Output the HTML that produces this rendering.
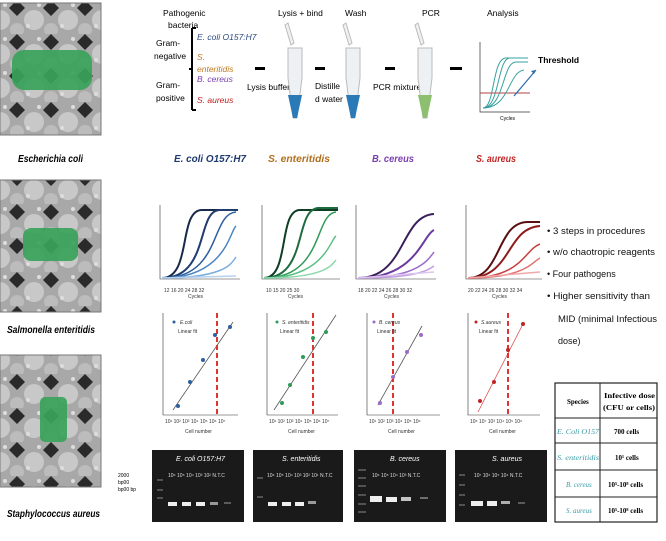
<!DOCTYPE html><html><head><meta charset="utf-8"><style>
body{margin:0;background:#fff;width:666px;height:536px;overflow:hidden}
svg text{font-family:"Liberation Sans",sans-serif}
.i{font-style:italic}
</style></head><body>
<svg width="666" height="536" viewBox="0 0 666 536" xmlns="http://www.w3.org/2000/svg">
<defs>
<pattern id="mic" width="34" height="34" patternUnits="userSpaceOnUse">
<rect width="34" height="34" fill="#a8a8a8"/>
<path d="M17 0 L25 8 L17 16 L9 8Z" fill="#2a2a2a"/>
<circle cx="0" cy="20" r="10" fill="#c8c8c8"/><circle cx="34" cy="20" r="10" fill="#c8c8c8"/>
<circle cx="17" cy="30" r="7" fill="#bcbcbc"/>
<circle cx="5" cy="5" r="2" fill="#ddd"/><circle cx="28" cy="26" r="2" fill="#ddd"/>
</pattern>
</defs>
<rect x="0" y="3" width="101" height="132" fill="url(#mic)" stroke="#777"/>
<rect x="12" y="50" width="80" height="40" rx="12" fill="#3aa35a" opacity="0.92"/>
<text x="18" y="162" font-size="10" class="i" font-weight="bold" textLength="65" lengthAdjust="spacingAndGlyphs">Escherichia coli</text>
<rect x="0" y="180" width="101" height="132" fill="url(#mic)" stroke="#777"/>
<rect x="23" y="228" width="55" height="33" rx="8" fill="#3aa35a" opacity="0.92"/>
<text x="7" y="333" font-size="10" class="i" font-weight="bold" textLength="88" lengthAdjust="spacingAndGlyphs">Salmonella enteritidis</text>
<rect x="0" y="355" width="101" height="132" fill="url(#mic)" stroke="#777"/>
<rect x="40" y="397" width="27" height="45" rx="5" fill="#3aa35a" opacity="0.92"/>
<text x="7" y="517" font-size="10" class="i" font-weight="bold" textLength="93" lengthAdjust="spacingAndGlyphs">Staphylococcus aureus</text>
<text x="118" y="477" font-size="5">2000</text><text x="118" y="484" font-size="5">bp00</text><text x="118" y="491" font-size="5">bp00 bp</text>

<g font-size="8.5">
<text x="163" y="16">Pathogenic</text><text x="168" y="28">bacteria</text>
<text x="156" y="46">Gram-</text><text x="154" y="59">negative</text>
<text x="156" y="88">Gram-</text><text x="156" y="101">positive</text>
<path d="M192 28 V110 M192 28 h4 M192 110 h4 M189 69 h3" stroke="#000" stroke-width="2" fill="none"/>
<text x="197" y="40" class="i" fill="#2d4a80">E. coli O157:H7</text>
<text x="197" y="60" class="i" fill="#c07a20">S.</text>
<text x="197" y="72" class="i" fill="#c07a20">enteritidis</text>
<text x="197" y="82" class="i" fill="#7a3fb0">B. cereus</text>
<text x="197" y="103" class="i" fill="#c02020">S. aureus</text>
<text x="278" y="16">Lysis + bind</text><text x="345" y="16">Wash</text><text x="422" y="16">PCR</text><text x="487" y="16">Analysis</text>
<text x="247" y="90">Lysis buffer</text>
<text x="315" y="89">Distille</text><text x="315" y="102">d water</text>
<text x="373" y="90">PCR mixture</text>
<text x="538" y="63" font-weight="bold">Threshold</text>
</g>
<g fill="#000"><rect x="255" y="67" width="10" height="3"/><rect x="315" y="67" width="10" height="3"/><rect x="385" y="67" width="10" height="3"/><rect x="450" y="67" width="12" height="3"/></g>
<g stroke="#bbb" fill="#eef1f3">
<path d="M288 48 h14 v30 l-5 40 h-4 l-5 -40z"/><path d="M346 48 h14 v30 l-5 40 h-4 l-5 -40z"/><path d="M418 48 h14 v30 l-5 40 h-4 l-5 -40z"/>
<path d="M291 45 l-6 -20 l3 -2 l6 20z"/><path d="M349 45 l-6 -20 l3 -2 l6 20z"/><path d="M421 45 l-6 -20 l3 -2 l6 20z"/>
</g>
<path d="M288 95 h14 l-5 23 h-4z" fill="#2b7ab8"/><path d="M346 95 h14 l-5 23 h-4z" fill="#2b7ab8"/><path d="M418 95 h14 l-5 23 h-4z" fill="#8dbf70"/>
<path d="M480 42 V112 H530" stroke="#333" fill="none" stroke-width="0.7"/>
<line x1="480" y1="93" x2="530" y2="93" stroke="#b04040"/>
<g stroke="#3aa0a0" fill="none" stroke-width="1"><path d="M483 108 C495 108 492 58 506 58 H528"/><path d="M483 108 C500 108 497 58 510 58 H528"/><path d="M483 108 C505 108 502 62 516 62 H528"/><path d="M483 108 C510 108 508 72 524 70"/></g>
<path d="M514 96 L536 70" stroke="#2b6aa8" stroke-width="1.2"/><path d="M536 70 l-5 1 l3 3z" fill="#2b6aa8"/>
<text x="500" y="120" font-size="5">Cycles</text>

<g font-size="10.5" class="i" font-weight="bold">
<text x="174" y="162" fill="#1f3a6e" textLength="72" lengthAdjust="spacingAndGlyphs">E. coli O157:H7</text>
<text x="268" y="162" fill="#b0701f" textLength="62" lengthAdjust="spacingAndGlyphs">S. enteritidis</text>
<text x="372" y="162" fill="#7a3fb0" textLength="42" lengthAdjust="spacingAndGlyphs">B. cereus</text>
<text x="476" y="162" fill="#c02525" textLength="40" lengthAdjust="spacingAndGlyphs">S. aureus</text>
</g>
<g font-size="5" fill="#333">
<g transform="translate(160,0)">
<path d="M0 205 V279 H80" stroke="#333" fill="none" stroke-width="0.6"/>
<path d="M2 278 C32 278 18 210 42 210 H78" stroke="#1a2a4a" stroke-width="2" fill="none"/>
<path d="M2 278 C50 278 36 210 60 210 H78" stroke="#1f3d6e" stroke-width="2" fill="none"/>
<path d="M2 278 C62 278 50 214 76 212" stroke="#2e5f9e" stroke-width="1.5" fill="none"/>
<path d="M2 278 C66 278 70 230 76 226" stroke="#4a85c4" stroke-width="1.5" fill="none"/>
<path d="M2 278 C68 278 72 262 76 257" stroke="#7aaede" stroke-width="1.5" fill="none"/>
<path d="M2 278 L76 276" stroke="#b5d2ee" stroke-width="1.5"/>
<text x="4" y="292">12 16 20 24 28 32</text><text x="28" y="298">Cycles</text>
</g>
<g transform="translate(262,0)">
<path d="M0 205 V279 H78" stroke="#333" fill="none" stroke-width="0.6"/>
<path d="M2 278 C28 278 16 210 38 210 H76" stroke="#0f3d25" stroke-width="2" fill="none"/>
<path d="M2 278 C46 278 32 210 56 208 H76" stroke="#1e6b3f" stroke-width="2" fill="none"/>
<path d="M2 278 C62 278 52 214 74 212" stroke="#2f9a5a" stroke-width="1.5" fill="none"/>
<path d="M2 278 C62 278 68 240 74 236" stroke="#5cc085" stroke-width="1.5" fill="none"/>
<path d="M2 278 C66 278 70 264 74 260" stroke="#8fd8ab" stroke-width="1.5" fill="none"/>
<text x="4" y="292">10 15 20 25 30</text><text x="26" y="298">Cycles</text>
</g>
<g transform="translate(356,0)">
<path d="M0 205 V279 H80" stroke="#333" fill="none" stroke-width="0.6"/>
<path d="M2 278 C50 278 44 216 78 214" stroke="#3a1f5c" stroke-width="2" fill="none"/>
<path d="M2 278 C60 278 66 236 78 230" stroke="#6a3a9e" stroke-width="2" fill="none"/>
<path d="M2 278 C62 278 72 260 78 252" stroke="#9a6ccc" stroke-width="1.5" fill="none"/>
<path d="M2 278 C62 278 72 270 78 266" stroke="#c29de0" stroke-width="1.5" fill="none"/>
<path d="M2 278 L78 272" stroke="#dcc5ee" stroke-width="1.5"/>
<text x="2" y="292">18 20 22 24 26 28 30 32</text><text x="28" y="298">Cycles</text>
</g>
<g transform="translate(466,0)">
<path d="M0 205 V279 H76" stroke="#333" fill="none" stroke-width="0.6"/>
<path d="M2 278 C36 278 30 222 62 222 H74" stroke="#5a0f10" stroke-width="2" fill="none"/>
<path d="M2 278 C46 278 40 228 74 226" stroke="#8f1c1c" stroke-width="2" fill="none"/>
<path d="M2 278 C56 278 58 250 74 244" stroke="#c84040" stroke-width="1.5" fill="none"/>
<path d="M2 278 C60 278 66 262 74 258" stroke="#e07070" stroke-width="1.5" fill="none"/>
<path d="M2 278 L74 272" stroke="#f0a8a8" stroke-width="1.5"/>
<text x="2" y="292">20 22 24 26 28 30 32 34</text><text x="26" y="298">Cycles</text>
</g>
</g>
<g font-size="9" fill="#111">
<text x="547" y="234" textLength="98" lengthAdjust="spacingAndGlyphs">•  3 steps in procedures</text>
<text x="547" y="255" textLength="108" lengthAdjust="spacingAndGlyphs">•  w/o chaotropic reagents</text>
<text x="547" y="277">•  Four pathogens</text>
<text x="547" y="299" textLength="103" lengthAdjust="spacingAndGlyphs">•  Higher sensitivity than</text>
<text x="558" y="322" textLength="99" lengthAdjust="spacingAndGlyphs">MID (minimal Infectious</text>
<text x="558" y="344">dose)</text>
</g>
<g font-size="5" fill="#333">
<g>
<path d="M163 313 V415 H238" stroke="#333" fill="none" stroke-width="0.6"/>
<line x1="173" y1="410" x2="233" y2="322" stroke="#555" stroke-width="0.8"/>
<line x1="217" y1="313" x2="217" y2="415" stroke="#d33" stroke-width="2" stroke-dasharray="5,3"/>
<g fill="#2e5f9e"><circle cx="178" cy="406" r="2"/><circle cx="190" cy="382" r="2"/><circle cx="203" cy="360" r="2"/><circle cx="215" cy="335" r="2"/><circle cx="230" cy="327" r="2"/><circle cx="174" cy="322" r="1.5"/></g>
<text x="180" y="324" class="i">E.coli</text><text x="178" y="333">Linear fit</text>
<text x="165" y="423">10¹ 10² 10³ 10⁴ 10⁵ 10⁶ 10⁷</text><text x="185" y="433">Cell number</text>
</g>
<g>
<path d="M267 313 V415 H338" stroke="#333" fill="none" stroke-width="0.6"/>
<line x1="274" y1="410" x2="336" y2="315" stroke="#555" stroke-width="0.8"/>
<line x1="313" y1="313" x2="313" y2="415" stroke="#d33" stroke-width="2" stroke-dasharray="5,3"/>
<g fill="#2f9a5a"><circle cx="282" cy="403" r="2"/><circle cx="290" cy="385" r="2"/><circle cx="303" cy="357" r="2"/><circle cx="313" cy="338" r="2"/><circle cx="326" cy="332" r="2"/><circle cx="277" cy="322" r="1.5"/></g>
<text x="282" y="324" class="i">S. enteritidis</text><text x="280" y="333">Linear fit</text>
<text x="269" y="423">10¹ 10² 10³ 10⁴ 10⁵ 10⁶ 10⁷</text><text x="288" y="433">Cell number</text>
</g>
<g>
<path d="M367 313 V415 H440" stroke="#333" fill="none" stroke-width="0.6"/>
<line x1="378" y1="405" x2="422" y2="326" stroke="#555" stroke-width="0.8"/>
<line x1="393" y1="313" x2="393" y2="415" stroke="#d33" stroke-width="2" stroke-dasharray="5,3"/>
<g fill="#9a6ccc"><circle cx="380" cy="403" r="2"/><circle cx="393" cy="377" r="2"/><circle cx="407" cy="352" r="2"/><circle cx="421" cy="335" r="2"/><circle cx="374" cy="322" r="1.5"/></g>
<text x="379" y="324" class="i">B. cereus</text><text x="377" y="333">Linear fit</text>
<text x="369" y="423">10¹ 10² 10³ 10⁴ 10⁵ 10⁶</text><text x="388" y="433">Cell number</text>
</g>
<g>
<path d="M468 313 V415 H540" stroke="#333" fill="none" stroke-width="0.6"/>
<line x1="478" y1="412" x2="524" y2="322" stroke="#d55" stroke-width="0.8"/>
<line x1="508" y1="313" x2="508" y2="415" stroke="#d33" stroke-width="2" stroke-dasharray="5,3"/>
<g fill="#c02525"><circle cx="480" cy="401" r="2"/><circle cx="494" cy="382" r="2"/><circle cx="508" cy="350" r="2"/><circle cx="523" cy="324" r="2"/><circle cx="476" cy="322" r="1.5"/></g>
<text x="481" y="324" class="i">S.aureus</text><text x="479" y="333">Linear fit</text>
<text x="470" y="423">10⁶ 10⁷ 10³ 10⁴ 10⁵ 10⁶</text><text x="489" y="433">Cell number</text>
</g>
</g>
<g>
<rect x="152" y="450" width="92" height="72" fill="#1a1a1a"/><rect x="253" y="450" width="90" height="72" fill="#1a1a1a"/><rect x="354" y="450" width="92" height="72" fill="#1a1a1a"/><rect x="455" y="450" width="92" height="72" fill="#1a1a1a"/>
<g font-size="7" fill="#fff" class="i"><text x="176" y="461">E. coli O157:H7</text><text x="282" y="461">S. enteritidis</text><text x="390" y="461">B. cereus</text><text x="492" y="461">S. aureus</text></g>
<g font-size="5" fill="#ddd"><text x="168" y="477">10⁶ 10⁵ 10⁴ 10³  10² N.T.C</text><text x="267" y="477">10⁶ 10⁵ 10⁴ 10³ 10² 10¹ N.T.C</text><text x="372" y="477">10⁶  10⁵  10⁴   10³ N.T.C</text><text x="474" y="477">10⁷ 10⁶ 10⁵  10⁴ N.T.C</text></g>
<g fill="#eee"><rect x="168" y="502" width="9" height="4"/><rect x="182" y="502" width="9" height="4"/><rect x="196" y="502" width="9" height="4"/><rect x="210" y="502" width="8" height="3" opacity="0.6"/><rect x="224" y="502" width="7" height="2" opacity="0.3"/>
<rect x="268" y="502" width="9" height="4"/><rect x="282" y="502" width="9" height="4"/><rect x="295" y="502" width="9" height="4"/><rect x="308" y="501" width="8" height="3" opacity="0.6"/>
<rect x="370" y="496" width="12" height="6"/><rect x="386" y="497" width="11" height="5"/><rect x="401" y="497" width="10" height="4" opacity="0.8"/><rect x="420" y="497" width="8" height="2" opacity="0.4"/>
<rect x="471" y="501" width="12" height="5"/><rect x="487" y="501" width="10" height="5"/><rect x="501" y="501" width="9" height="3" opacity="0.7"/><rect x="518" y="502" width="7" height="2" opacity="0.3"/></g>
<g stroke="#888" stroke-width="1"><path d="M157 480h6M157 490h6M157 498h6M257 478h6M257 497h6M358 470h8M358 478h8M358 486h8M358 495h8M358 504h8M358 512h8M459 475h6M459 485h6M459 495h6M459 505h6"/></g>
</g>
<g font-size="7">
<rect x="555" y="383" width="102" height="139" fill="#fff" stroke="#222" stroke-width="1.2"/>
<path d="M600 383 V522 M555 418 H657 M555 443 H657 M555 470 H657 M555 497 H657" stroke="#222" stroke-width="1"/>
<text x="567" y="404" style="font-family:'Liberation Serif',serif" font-weight="bold">Species</text>
<text x="604" y="398" style="font-family:'Liberation Serif',serif" font-weight="bold" textLength="51" lengthAdjust="spacingAndGlyphs">Infective dose</text>
<text x="603" y="410" style="font-family:'Liberation Serif',serif" font-weight="bold" textLength="52" lengthAdjust="spacingAndGlyphs">(CFU or cells)</text>
<g fill="#3a9aa8" font-style="italic"><text x="557" y="434" style="font-family:'Liberation Serif',serif" textLength="42" lengthAdjust="spacingAndGlyphs">E. Coli O157</text><text x="557" y="460" style="font-family:'Liberation Serif',serif" textLength="42" lengthAdjust="spacingAndGlyphs">S. enteritidis</text><text x="566" y="487" style="font-family:'Liberation Serif',serif">B. cereus</text><text x="566" y="513" style="font-family:'Liberation Serif',serif">S. aureus</text></g>
<g font-weight="bold"><text x="614" y="434" style="font-family:'Liberation Serif',serif">700 cells</text><text x="615" y="460" style="font-family:'Liberation Serif',serif">10¹ cells</text><text x="608" y="487" style="font-family:'Liberation Serif',serif">10⁵-10⁸ cells</text><text x="608" y="513" style="font-family:'Liberation Serif',serif">10⁵-10⁸ cells</text></g>
</g>
</svg>
</body></html>
